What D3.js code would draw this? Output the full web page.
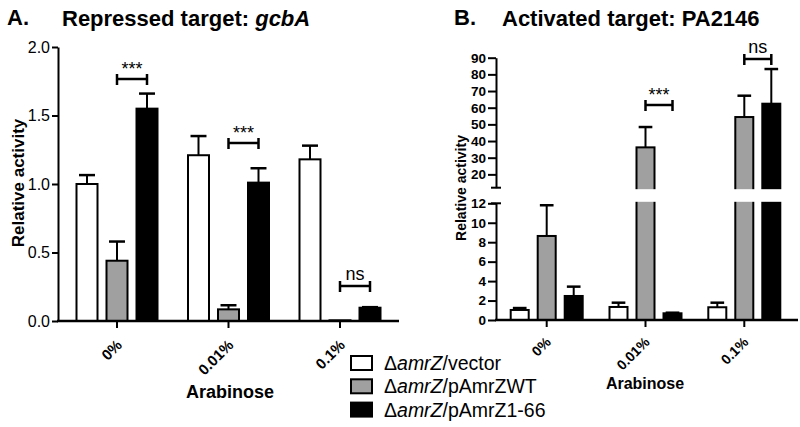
<!DOCTYPE html>
<html>
<head>
<meta charset="utf-8">
<script src="https://cdn.jsdelivr.net/npm/d3@7"></script>
<style>
body { margin: 0; background: #fff; }
svg { font-family: "Liberation Sans", Arial, sans-serif; }
</style>
</head>
<body>
<script>
// data
var concs = ["0%", "0.01%", "0.1%"];
var strains = ["vector", "pAmrZWT", "pAmrZ1-66"];
var fills = ["#fff", "#a0a0a0", "#000"];

// panel A, repressed target gcbA (mean, SEM) per strain
var aVector = [1.00, 1.21, 1.18], aVectorErr = [0.065, 0.14, 0.10];
var aWT = [0.44, 0.085, 0.005], aWTErr = [0.14, 0.03, 0];
var a166 = [1.55, 1.01, 0.097], a166Err = [0.11, 0.105, 0.004];

// panel B, activated target PA2146
var bVector = [1.03, 1.34, 1.31], bVectorErr = [0.2, 0.44, 0.47];
var bWT = [8.64, 36.2, 54.4], bWTErr = [3.16, 12.2, 12.8];
var b166 = [2.47, 0.69, 62.4], b166Err = [0.96, 0.06, 20.8];

var aTicks = [0, 0.5, 1, 1.5, 2];
var bLowTicks = [0, 2, 4, 6, 8, 10, 12];
var bHighTicks = [20, 30, 40, 50, 60, 70, 80, 90];

// significance: [group index, label]
var aSig = [[0, "***"], [1, "***"], [2, "ns"]];
var bSig = [[1, "***"], [2, "ns"]];

var svg = d3.select("body").append("svg")
  .attr("width", 800).attr("height", 427);

function rows(m, e) {
  return concs.map(function(c, i) {
    return strains.map(function(s, j) {
      return {c: c, s: s, j: j, v: m[j][i], e: e[j][i]};
    });
  });
}

function drawBars(g, data, x, inner, bw, y, y0) {
  var grp = g.selectAll(".grp").data(data).enter().append("g")
    .attr("transform", function(d, i) { return "translate(" + (x(concs[i]) + x.bandwidth() / 2) + ",0)"; });
  var bar = grp.selectAll(".bar").data(function(d) { return d; }).enter().append("g");
  // error bar (upper half only)
  bar.filter(function(d) { return d.e > 0; }).each(function(d) {
    var cx = inner(d.s);
    var el = d3.select(this);
    el.append("line").attr("x1", cx).attr("x2", cx)
      .attr("y1", y(d.v)).attr("y2", y(d.v + d.e))
      .attr("stroke", "#000").attr("stroke-width", 2);
    el.append("line").attr("x1", cx - bw * 0.38).attr("x2", cx + bw * 0.38)
      .attr("y1", y(d.v + d.e)).attr("y2", y(d.v + d.e))
      .attr("stroke", "#000").attr("stroke-width", 2.5);
  });
  bar.append("rect")
    .attr("x", function(d) { return inner(d.s) - bw / 2; })
    .attr("width", bw)
    .attr("y", function(d) { return y(d.v); })
    .attr("height", function(d) { return Math.max(0.5, y0 - y(d.v)); })
    .attr("fill", function(d) { return fills[d.j]; })
    .attr("stroke", "#000").attr("stroke-width", 2);
}

function bracket(g, x1, x2, yy, label, ty) {
  g.append("line").attr("x1", x1).attr("x2", x2).attr("y1", yy).attr("y2", yy)
    .attr("stroke", "#000").attr("stroke-width", 2.5);
  [x1, x2].forEach(function(xx) {
    g.append("line").attr("x1", xx).attr("x2", xx).attr("y1", yy - 5).attr("y2", yy + 6)
      .attr("stroke", "#000").attr("stroke-width", 2.5);
  });
  g.append("text").attr("x", (x1 + x2) / 2).attr("y", ty)
    .attr("text-anchor", "middle").style("font-size", "18px").text(label);
}

function styleAxis(ax, bold, size) {
  ax.selectAll("path,line").attr("stroke", "#000").attr("stroke-width", 2);
  ax.selectAll("text").attr("fill", "#000")
    .style("font-size", size + "px").style("font-weight", bold ? "bold" : "normal");
}

// ---------- panel A ----------
var xA = d3.scaleBand().domain(concs).range([61.25, 395.75]);
var innerA = d3.scalePoint().domain(strains).range([-30, 30]);
var yA = d3.scaleLinear().domain([0, 2]).range([321, 47]);
var gA = svg.append("g");

drawBars(gA, rows([aVector, aWT, a166], [aVectorErr, aWTErr, a166Err]), xA, innerA, 21, yA, yA(0));

var axA = gA.append("g").attr("transform", "translate(58,0)")
  .call(d3.axisLeft(yA).tickValues(aTicks).tickFormat(d3.format(".1f")).tickSize(6).tickSizeOuter(0).tickPadding(2));
styleAxis(axA, false, 16);

gA.append("line").attr("x1", 57).attr("x2", 399).attr("y1", yA(0)).attr("y2", yA(0))
  .attr("stroke", "#000").attr("stroke-width", 2.5);
var xaxA = gA.append("g").attr("transform", "translate(0," + yA(0) + ")")
  .call(d3.axisBottom(xA).tickSize(7).tickSizeOuter(0));
xaxA.select(".domain").remove();
styleAxis(xaxA, true, 15);
xaxA.selectAll("text").attr("text-anchor", "end")
  .attr("transform", "translate(6,25) rotate(-45)").attr("dy", 0).attr("y", 0).attr("x", 0);

aSig.forEach(function(s, k) {
  var cx = xA(concs[s[0]]) + xA.bandwidth() / 2;
  var yy = [79, 143, 286][k];
  bracket(gA, cx + innerA(strains[1]), cx + innerA(strains[2]), yy, s[1], s[1] == "ns" ? yy - 6 : yy - 4);
});

svg.append("text").attr("x", 7).attr("y", 25).style("font-size", "22px").style("font-weight", "bold").text("A.");
var tA = svg.append("text").attr("x", 62).attr("y", 26).style("font-size", "22px").style("font-weight", "bold");
tA.append("tspan").text("Repressed target: ");
tA.append("tspan").style("font-style", "italic").text("gcbA");

svg.append("text").attr("transform", "translate(24,183) rotate(-90)").attr("text-anchor", "middle")
  .style("font-size", "17px").style("font-weight", "bold").text("Relative activity");
svg.append("text").attr("x", 230).attr("y", 398).attr("text-anchor", "middle")
  .style("font-size", "18px").style("font-weight", "bold").text("Arabinose");

// ---------- panel B (broken axis) ----------
var xB = d3.scaleBand().domain(concs).range([497.3, 793.7]);
var innerB = d3.scalePoint().domain(strains).range([-27, 27]);
var yLow = d3.scaleLinear().domain([0, 12]).range([320, 203.3]);
var yHigh = d3.scaleLinear().domain([12, 90]).range([187.7, 57.7]);
function yB(v) { return v <= 12 ? yLow(v) : yHigh(v); }
var gB = svg.append("g");

drawBars(gB, rows([bVector, bWT, b166], [bVectorErr, bWTErr, b166Err]), xB, innerB, 18, yB, yLow(0));

// white band for the axis break
gB.append("rect").attr("x", 480).attr("width", 320).attr("y", yHigh(12) + 1.5)
  .attr("height", yLow(12) - yHigh(12) - 3).attr("fill", "#fff");

var axBL = gB.append("g").attr("transform", "translate(496,0)")
  .call(d3.axisLeft(yLow).tickValues(bLowTicks).tickSize(8).tickSizeOuter(0).tickPadding(2));
styleAxis(axBL, true, 13.5);
var axBH = gB.append("g").attr("transform", "translate(496,0)")
  .call(d3.axisLeft(yHigh).tickValues(bHighTicks).tickSize(8).tickSizeOuter(0).tickPadding(2));
styleAxis(axBH, true, 13.5);
// break caps on the axis
[yHigh(12), yLow(12)].forEach(function(yy) {
  gB.append("line").attr("x1", 491).attr("x2", 501).attr("y1", yy).attr("y2", yy)
    .attr("stroke", "#000").attr("stroke-width", 2);
});

gB.append("line").attr("x1", 495).attr("x2", 798).attr("y1", yLow(0)).attr("y2", yLow(0))
  .attr("stroke", "#000").attr("stroke-width", 2.5);
var xaxB = gB.append("g").attr("transform", "translate(0," + yLow(0) + ")")
  .call(d3.axisBottom(xB).tickSize(7).tickSizeOuter(0));
xaxB.select(".domain").remove();
styleAxis(xaxB, true, 14);
xaxB.selectAll("text").attr("text-anchor", "end")
  .attr("transform", "translate(5,23) rotate(-45)").attr("dy", 0).attr("y", 0).attr("x", 0);

bSig.forEach(function(s, k) {
  var cx = xB(concs[s[0]]) + xB.bandwidth() / 2;
  var yy = [105, 59][k];
  bracket(gB, cx + innerB(strains[1]), cx + innerB(strains[2]), yy, s[1], s[1] == "ns" ? yy - 6 : yy - 4);
});

svg.append("text").attr("x", 454).attr("y", 25).style("font-size", "22px").style("font-weight", "bold").text("B.");
svg.append("text").attr("x", 502).attr("y", 26).style("font-size", "22px").style("font-weight", "bold")
  .text("Activated target: PA2146");

svg.append("text").attr("transform", "translate(466,188) rotate(-90)").attr("text-anchor", "middle")
  .style("font-size", "14px").style("font-weight", "bold").text("Relative activity");
svg.append("text").attr("x", 645).attr("y", 389).attr("text-anchor", "middle")
  .style("font-size", "16px").style("font-weight", "bold").text("Arabinose");

// ---------- legend ----------
var leg = svg.append("g").selectAll("g").data(strains).enter().append("g")
  .attr("transform", function(d, i) { return "translate(351," + (356 + i * 23.3) + ")"; });
leg.append("rect").attr("width", 21).attr("height", 14)
  .attr("fill", function(d, i) { return fills[i]; }).attr("stroke", "#000").attr("stroke-width", 2);
var lt = leg.append("text").attr("x", 33).attr("y", 14).style("font-size", "19.5px");
lt.append("tspan").text("\u0394");
lt.append("tspan").style("font-style", "italic").text("amrZ");
lt.append("tspan").text(function(d) { return "/" + d; });
</script>
</body>
</html>
